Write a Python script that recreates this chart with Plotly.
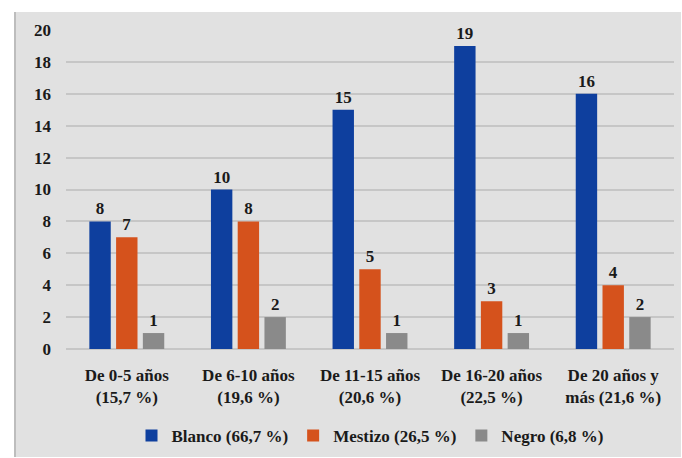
import plotly.graph_objects as go

categories = ["De 0-5 años<br>(15,7 %)", "De 6-10 años<br>(19,6 %)", "De 11-15 años<br>(20,6 %)",
              "De 16-20 años<br>(22,5 %)", "De 20 años y<br>más (21,6 %)"]
blanco = [8, 10, 15, 19, 16]
mestizo = [7, 8, 5, 3, 4]
negro = [1, 2, 1, 1, 2]
series_names = ["Blanco (66,7 %)", "Mestizo (26,5 %)", "Negro (6,8 %)"]
colors = ["#0e3f9e", "#d5521c", "#8a8a8a"]

font_family = "'Liberation Serif', 'DejaVu Serif', serif"
txt = dict(family=font_family, size=17, color="#1a1a1a", weight="bold")

fig = go.Figure()
for name, vals, col in zip(series_names, [blanco, mestizo, negro], colors):
    fig.add_trace(go.Bar(
        x=categories, y=vals, name=name, marker=dict(color=col, line=dict(width=0)),
        text=[str(v) for v in vals], textposition="outside", cliponaxis=False,
        textfont=txt,
    ))

W, H = 682, 458
ml, mr, mt, mb = 66, 8, 30, 109
pw, ph = W - ml - mr, H - mt - mb

def px_x(p):
    return (p - ml) / pw

def px_y(p):
    return (H - mb - p) / ph

fig.add_shape(type="rect", xref="paper", yref="paper", layer="below",
              x0=px_x(14), x1=px_x(681), y0=px_y(457), y1=px_y(12),
              fillcolor="#e1e1e1", line=dict(width=0))
fig.add_shape(type="line", xref="paper", yref="paper", layer="below",
              x0=px_x(15), x1=px_x(15), y0=px_y(457), y1=px_y(12),
              line=dict(color="#b0b0b0", width=1.5))

fig.update_layout(
    width=W, height=H,
    margin=dict(l=ml, r=mr, t=mt, b=mb, autoexpand=False),
    paper_bgcolor="white", plot_bgcolor="rgba(0,0,0,0)",
    barmode="group", bargap=0.34, bargroupgap=0.2,
    font=txt,
    showlegend=True,
    legend=dict(orientation="h", x=0.5, xanchor="center", y=px_y(436), yanchor="middle",
                font=txt, bgcolor="rgba(0,0,0,0)", itemwidth=30, tracegroupgap=0),
    xaxis=dict(showgrid=False, showline=False, ticks="", tickfont=txt, ticklabelstandoff=14,
               automargin=False),
    yaxis=dict(range=[0, 20], dtick=2, showgrid=True, gridcolor="#c6c6c6", gridwidth=1.5,
               zeroline=True, zerolinecolor="#c6c6c6", zerolinewidth=1.5, showline=False,
               ticks="", ticklabelstandoff=14, tickfont=txt, automargin=False),
)

fig.write_html("out.html", config={"displayModeBar": False},
               post_script="document.body.style.margin='0';document.body.style.overflow='hidden';")
